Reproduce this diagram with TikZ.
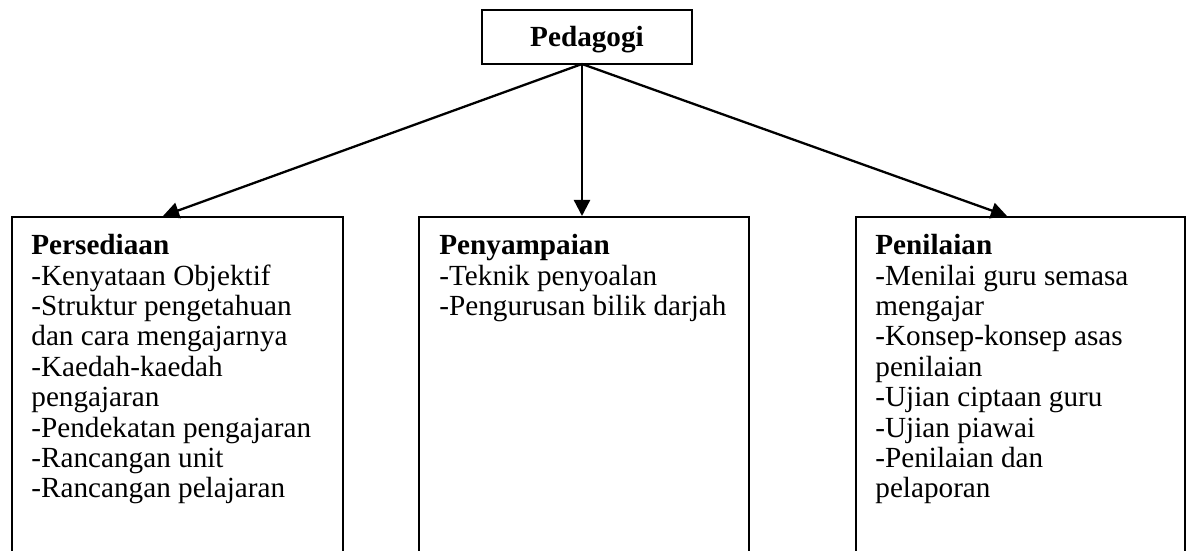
\documentclass[tikz,border=0pt]{standalone}
\usepackage{fontspec}
\setmainfont{Liberation Serif}
\usetikzlibrary{arrows.meta}
\begin{document}
\begin{tikzpicture}[x=0.5pt,y=-0.5pt,
  boxst/.style={draw, line width=0.95pt, inner sep=0pt, anchor=north west},
  txtst/.style={inner sep=0pt, anchor=north west, align=left, font=\fontsize{14.6}{15.2}\selectfont},
  arr/.style={line width=1.15pt, -{Triangle[length=8pt,width=8pt]}}]
\useasboundingbox (0,0) rectangle (1190,551);
\clip (0,0) rectangle (1190,551);
\node[draw, line width=0.95pt, minimum width=105pt, minimum height=27pt, inner sep=0pt,
  text height=12pt, text depth=2pt,
  font=\fontsize{14.6}{15.2}\selectfont\bfseries] (top) at (587,37) {Pedagogi};
\coordinate (src) at (582,64);
\node[boxst, minimum width=165.5pt, minimum height=180pt] (b1) at (11,216) {};
\node[boxst, minimum width=165pt, minimum height=180pt] (b2) at (418,216) {};
\node[boxst, minimum width=164.5pt, minimum height=180pt] (b3) at (855,216) {};
\coordinate (p1) at (163,216);
\coordinate (p2) at (582,216);
\coordinate (p3) at (1007,216);
\draw[arr] (src) -- (p1);
\draw[arr] (src) -- (p2);
\draw[arr] (src) -- (p3);
\node[txtst] (t1) at (31,234) {\textbf{Persediaan}\\-Kenyataan Objektif\\-Struktur pengetahuan\\dan cara mengajarnya\\-Kaedah-kaedah\\pengajaran\\-Pendekatan pengajaran\\-Rancangan unit\\-Rancangan pelajaran};
\node[txtst] (t2) at (439,234) {\textbf{Penyampaian}\\-Teknik penyoalan\\-Pengurusan bilik darjah};
\node[txtst] (t3) at (875,234) {\textbf{Penilaian}\\-Menilai guru semasa\\mengajar\\-Konsep-konsep asas\\penilaian\\-Ujian ciptaan guru\\-Ujian piawai\\-Penilaian dan\\pelaporan};
\end{tikzpicture}
\end{document}
